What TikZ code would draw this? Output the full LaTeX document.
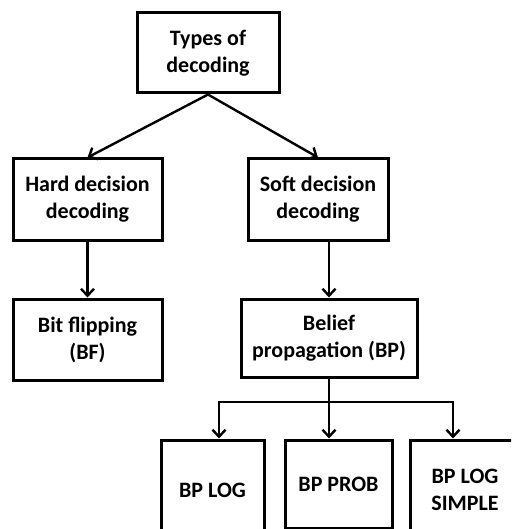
\documentclass[tikz,border=0pt]{standalone}
\usepackage{fontspec}
\setmainfont{Carlito}
\usetikzlibrary{arrows.meta,positioning}
\tikzset{box/.style={draw=black,line width=3pt,align=center,inner sep=0pt,fill=white,font=\bfseries\fontsize{22}{27}\selectfont},arr/.style={-{Straight Barb[length=7pt,width=13pt,line width=2.4pt]},line width=2.4pt,black}}

\begin{document}
\begin{tikzpicture}[x=1pt,y=-1pt]
\clip (0,0) rectangle (511,529);
\fill[white] (0,0) rectangle (511,529);
\node[box,minimum width=142pt,minimum height=80pt] (types) at (208,53) {Types of\\decoding};
\node[box,minimum width=149pt,minimum height=81pt] (hard) at (87.5,199.5) {Hard decision\\decoding};
\node[box,minimum width=140pt,minimum height=81pt] (soft) at (318,199.5) {Soft decision\\decoding};
\node[box,minimum width=149pt,minimum height=81pt] (bf) at (87.5,339.5) {Bit flipping\\(BF)};
\node[box,minimum width=176pt,minimum height=78pt] (bp) at (329,338) {Belief\\propagation (BP)};
\node[box,minimum width=103pt,minimum height=100pt] (bplog) at (212.5,490) {BP LOG};
\node[box,minimum width=107pt,minimum height=88pt] (bpprob) at (338.5,484) {BP PROB};
\node[box,minimum width=110pt,minimum height=100pt] (bpsimple) at (465,490) {BP LOG\\SIMPLE};
\draw[arr] (types.south) -- (hard.north); \draw[arr] (types.south) -- (soft.north);
\draw[arr] (hard) -- (bf); \draw[arr] (soft.south -| bp.north) -- (bp.north);
% split below belief propagation
\coordinate (split) at (329,402);
\draw[line width=2.4pt] (bp.south) -- (split);
\draw[arr] (split) -| ([xshift=6.5pt]bplog.north);
\draw[arr] (split) -- (split |- bpprob.north);
\draw[arr] (split) -| ([xshift=-12pt]bpsimple.north);
\end{tikzpicture}
\end{document}
